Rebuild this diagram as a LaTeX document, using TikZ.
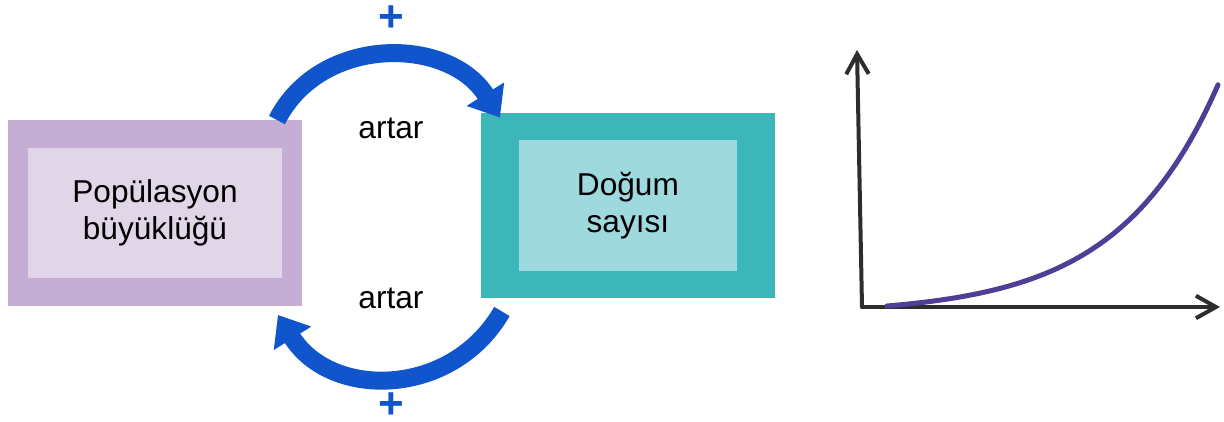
\documentclass[tikz,border=0pt]{standalone}
\usepackage{fontspec}
\setmainfont{Liberation Sans}
\usetikzlibrary{arrows.meta, positioning, calc}
\definecolor{popdark}{RGB}{197,174,211}
\definecolor{poplight}{RGB}{225,213,232}
\definecolor{dogdark}{RGB}{61,182,186}
\definecolor{doglight}{RGB}{158,217,222}
\definecolor{loopblue}{RGB}{17,85,204}
\definecolor{curvepurple}{RGB}{80,62,150}
\definecolor{pencil}{RGB}{45,45,45}

\begin{document}
\begin{tikzpicture}[x=0.02cm, y=-0.02cm, font=\fontsize{18}{21}\selectfont]
    \tikzstyle{outerbox} = [rectangle, minimum width=5.88cm, minimum height=3.72cm, inner sep=0pt, outer sep=0pt]
    \tikzstyle{innerbox} = [rectangle, minimum height=2.62cm, text centered, align=center, inner sep=0pt]
    \tikzstyle{loop} = [line width=0.36cm, loopblue, -{Triangle[length=0.55cm, width=0.85cm]}]
    \tikzstyle{sign} = [text=loopblue, inner sep=0pt, font=\fontsize{25}{25}\selectfont\bfseries]
    \tikzstyle{axis} = [line width=0.08cm, pencil, line cap=round, -{Straight Barb[length=0.4cm, width=0.45cm]}]

    \useasboundingbox (0,0) rectangle (1224,422);

    % feedback loop
    \node (popbox) [outerbox, fill=popdark] at (155,213) {};
    \node (dogbox) [outerbox, fill=dogdark, right=3.58cm of popbox, yshift=0.15cm] {};
    \node (pop) [innerbox, fill=poplight, minimum width=5.08cm] at (popbox) {Popülasyon\\büyüklüğü};
    \node (dog) [innerbox, fill=doglight, minimum width=4.36cm] at (dogbox) {Doğum\\sayısı};

    \draw [loop] ($(popbox.north east)+(-25,0)$) to[out=63, in=122, looseness=1.1] ($(dogbox.north west)+(19,5)$);
    \draw [loop] ($(dogbox.south west)+(21,13)$) to[out=-120, in=-58, looseness=1.14] ($(popbox.south east)+(-24,9)$);

    \node (incup) at (391,128) {artar};
    \node (incdown) at (391,298) {artar};
    \node (plusup) [sign] at (391,19) {+};
    \node (plusdown) [sign] at (391,406) {+};

    % growth sketch
    \coordinate (origin) at (862,307);
    \coordinate (ytop) at (857,50);
    \coordinate (xend) at (1220,307);
    \draw [axis] (origin) -- (ytop);
    \draw [axis] (origin) -- (xend);
    \draw [line width=0.1cm, curvepurple, line cap=round] plot[domain=887:1218, samples=60, smooth] (\x, {306-8.4*(exp(0.01*(\x-887))-1)});
\end{tikzpicture}
\end{document}
